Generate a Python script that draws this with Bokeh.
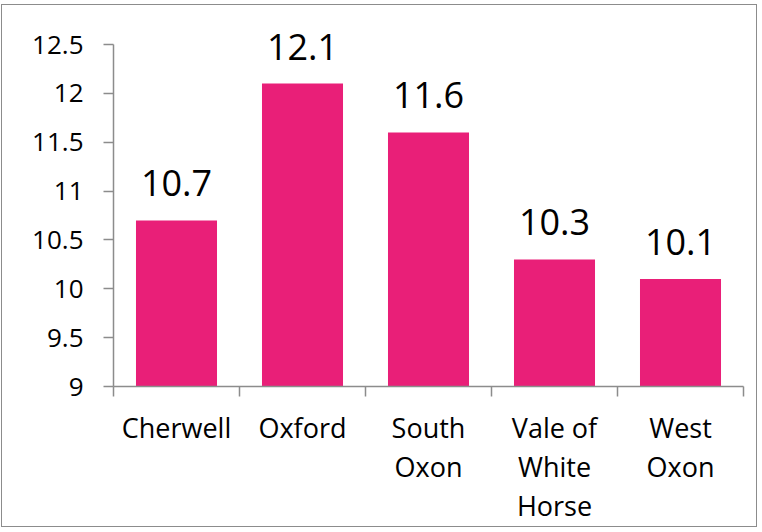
from bokeh.plotting import figure
from bokeh.models import ColumnDataSource, FixedTicker, Range1d
from bokeh.core.properties import value
from bokeh.embed import file_html
from bokeh.resources import INLINE

categories = ["Cherwell", "Oxford", "South\nOxon", "Vale of\nWhite\nHorse", "West\nOxon"]
values = [10.7, 12.1, 11.6, 10.3, 10.1]
value_labels = ["10.7", "12.1", "11.6", "10.3", "10.1"]
y_tick_labels = ["9", "9.5", "10", "10.5", "11", "11.5", "12", "12.5"]

FONT = "Open Sans"
BAR_COLOR = "#E91F78"
AXIS_COLOR = "#8C8C8C"

y_ticks = [float(s) for s in y_tick_labels]
x_pos = [i + 0.5 for i in range(len(categories))]
x_bounds = [float(i) for i in range(len(categories) + 1)]

src = ColumnDataSource(dict(x=x_pos, top=values, label=value_labels))

p = figure(
    output_backend="svg", toolbar_location=None,
    frame_width=630, frame_height=342,
    min_border_left=111, min_border_top=39, min_border_right=13, min_border_bottom=134,
    x_range=Range1d(0, len(categories)), y_range=Range1d(y_ticks[0], y_ticks[-1]),
)
p.styles = {"border": "1px solid #8C8C8C", "margin-left": "1px", "margin-top": "4px"}
p.outline_line_color = None
p.grid.visible = False
p.background_fill_color = "white"
p.border_fill_color = "white"

p.vbar(x="x", top="top", bottom=y_ticks[0], width=0.643, source=src,
       fill_color=BAR_COLOR, line_color=None)

p.text(x="x", y="top", text="label", source=src, text_font=value(FONT),
       text_font_size="36px", text_align="center", text_baseline="alphabetic",
       y_offset=-37, text_color="black", level="overlay")

# x axis
xa = p.xaxis[0]
xa.ticker = FixedTicker(ticks=x_pos, minor_ticks=x_bounds)
xa.major_label_overrides = {x: c for x, c in zip(x_pos, categories)}
xa.major_tick_out = 0
xa.major_tick_in = 0
xa.minor_tick_out = 10
xa.minor_tick_in = 0
xa.minor_tick_line_color = AXIS_COLOR
xa.minor_tick_line_width = 1.5
xa.axis_line_color = AXIS_COLOR
xa.axis_line_width = 1.5
xa.major_label_text_font = FONT
xa.major_label_text_font_size = "27px"
xa.major_label_text_color = "black"
xa.major_label_text_line_height = 1.06
xa.major_label_standoff = 12
xa.major_label_orientation = "horizontal"

# y axis
ya = p.yaxis[0]
ya.ticker = FixedTicker(ticks=y_ticks, minor_ticks=[])
ya.major_label_overrides = {t: s for t, s in zip(y_ticks, y_tick_labels)}
ya.major_tick_out = 10
ya.major_tick_in = 0
ya.minor_tick_out = 0
ya.minor_tick_in = 0
ya.major_tick_line_color = AXIS_COLOR
ya.major_tick_line_width = 1.5
ya.axis_line_color = AXIS_COLOR
ya.axis_line_width = 1.5
ya.major_label_text_font = FONT
ya.major_label_text_font_size = "26px"
ya.major_label_text_color = "black"
ya.major_label_standoff = 20

open("out.html", "w").write(file_html(p, INLINE))
